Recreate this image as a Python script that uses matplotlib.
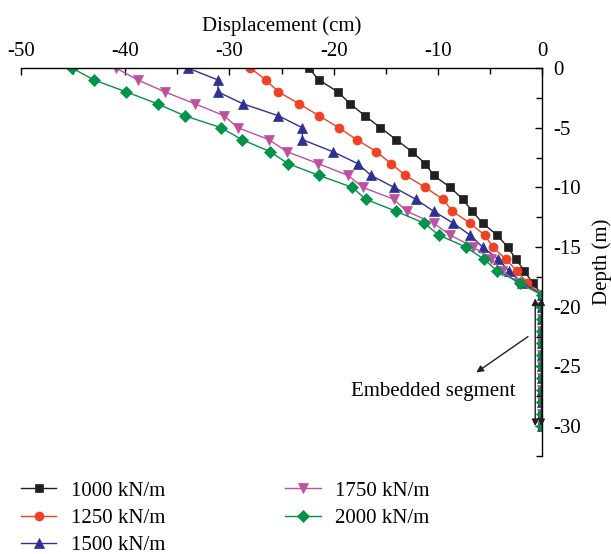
import matplotlib
matplotlib.use("Agg")
import matplotlib.pyplot as plt
from matplotlib.ticker import MultipleLocator

plt.rcParams['font.family'] = ['Liberation Serif', 'DejaVu Serif']
plt.rcParams['axes.unicode_minus'] = False

depth = [0, -1, -2, -3, -4, -5, -6, -7, -8, -9, -10, -11, -12, -13, -14, -15,
         -16, -17, -18, -19, -20, -21, -22, -23, -24, -25, -26, -27, -28, -29, -30]

labels = ["1000 kN/m", "1250 kN/m", "1500 kN/m", "1750 kN/m", "2000 kN/m"]

disp_1000 = [-22.4, -21.4, -19.6, -18.4, -17.0, -15.5, -14.0, -12.5, -11.2, -10.4,
             -8.8, -7.6, -6.7, -5.7, -4.3, -3.3, -2.5, -1.7, -0.9, 0.0,
             0, 0, 0, 0, 0, 0, 0, 0, 0, 0, 0]
disp_1250 = [-28.0, -26.5, -25.3, -23.3, -21.4, -19.5, -17.8, -15.9, -14.5, -13.1,
             -11.2, -9.5, -8.6, -6.9, -5.5, -4.7, -3.5, -2.4, -1.4, 0.0,
             0, 0, 0, 0, 0, 0, 0, 0, 0, 0, 0]
disp_1500 = [-34.0, -31.1, -31.1, -28.7, -25.3, -23.0, -23.0, -20.1, -17.7, -16.4,
             -14.2, -12.1, -10.4, -8.5, -6.9, -5.7, -4.2, -3.2, -1.9, 0.0,
             0, 0, 0, 0, 0, 0, 0, 0, 0, 0, 0]
disp_1750 = [-40.9, -38.8, -36.2, -33.3, -30.5, -29.2, -26.2, -24.5, -21.5, -18.6,
             -17.2, -14.2, -13.0, -10.4, -8.8, -6.6, -4.9, -3.8, -2.3, 0.0,
             0, 0, 0, 0, 0, 0, 0, 0, 0, 0, 0]
disp_2000 = [-45.1, -43.0, -39.9, -36.9, -34.3, -30.8, -28.8, -26.1, -24.4, -21.4,
             -18.2, -16.9, -14.0, -11.3, -9.9, -7.3, -5.6, -4.3, -2.1, 0.0,
             0, 0, 0, 0, 0, 0, 0, 0, 0, 0, 0]

series = [disp_1000, disp_1250, disp_1500, disp_1750, disp_2000]
colors = ["#231f20", "#ef4123", "#2e3192", "#c0509f", "#00934a"]
markers = ["s", "o", "^", "v", "D"]
msizes = [5.5, 6.5, 7.5, 7.5, 6]

fig = plt.figure(figsize=(6.11, 5.54), dpi=100)
ax = fig.add_axes([21/611, 1-456/554, (542-21)/611, (456-68)/554])

handles = []
for vals, c, m, ms, lab in zip(series, colors, markers, msizes, labels):
    h, = ax.plot(vals, depth, color=c, marker=m, markersize=ms, lw=1.0,
                 markeredgewidth=0.5, label=lab)
    handles.append(h)

ax.set_xlim(-50, 0)
ax.set_ylim(-32.5, 0)

for s in ["left", "bottom"]:
    ax.spines[s].set_visible(False)
for s in ["top", "right"]:
    ax.spines[s].set_linewidth(1.0)

ax.xaxis.tick_top()
ax.xaxis.set_label_position("top")
ax.yaxis.tick_right()
ax.yaxis.set_label_position("right")
ax.xaxis.set_major_locator(MultipleLocator(10))
ax.xaxis.set_minor_locator(MultipleLocator(5))
ax.yaxis.set_major_locator(MultipleLocator(5))
ax.yaxis.set_minor_locator(MultipleLocator(2.5))
ax.tick_params(which="both", direction="in", labelsize=15, top=True, right=True,
               bottom=False, left=False)
ax.tick_params(which="major", length=5, width=1)
ax.tick_params(which="minor", length=4, width=1)
ax.tick_params(axis="y", pad=8)
ax.tick_params(axis="x", pad=5)

ax.set_xlabel("Displacement (cm)", fontsize=15, labelpad=8)
ax.set_ylabel("Depth (m)", fontsize=15, labelpad=8)

# embedded segment markers
for xa in (-0.65, -0.05):
    ax.annotate("", xy=(xa, -19.3), xytext=(xa, -30.0),
                arrowprops=dict(arrowstyle="<|-|>", color="#231f20", lw=1.0,
                                mutation_scale=10, shrinkA=0, shrinkB=0))
ax.annotate("", xy=(-1.35, -22.5), xytext=(-6.3, -25.5),
            arrowprops=dict(arrowstyle="<|-", color="#231f20", lw=1.0,
                            mutation_scale=10, shrinkA=0, shrinkB=0))
ax.text(-10.4, -27.1, "Embedded segment", fontsize=15, ha="center", va="center")

fig.legend(handles=handles, loc="upper left", bbox_to_anchor=(21/611, 1-481/554),
           ncol=2, frameon=False, fontsize=15, handlelength=1.7,
           handletextpad=0.7, columnspacing=5.75, labelspacing=0.37, borderpad=0,
           borderaxespad=0)

fig.savefig("out.png", dpi=100)
